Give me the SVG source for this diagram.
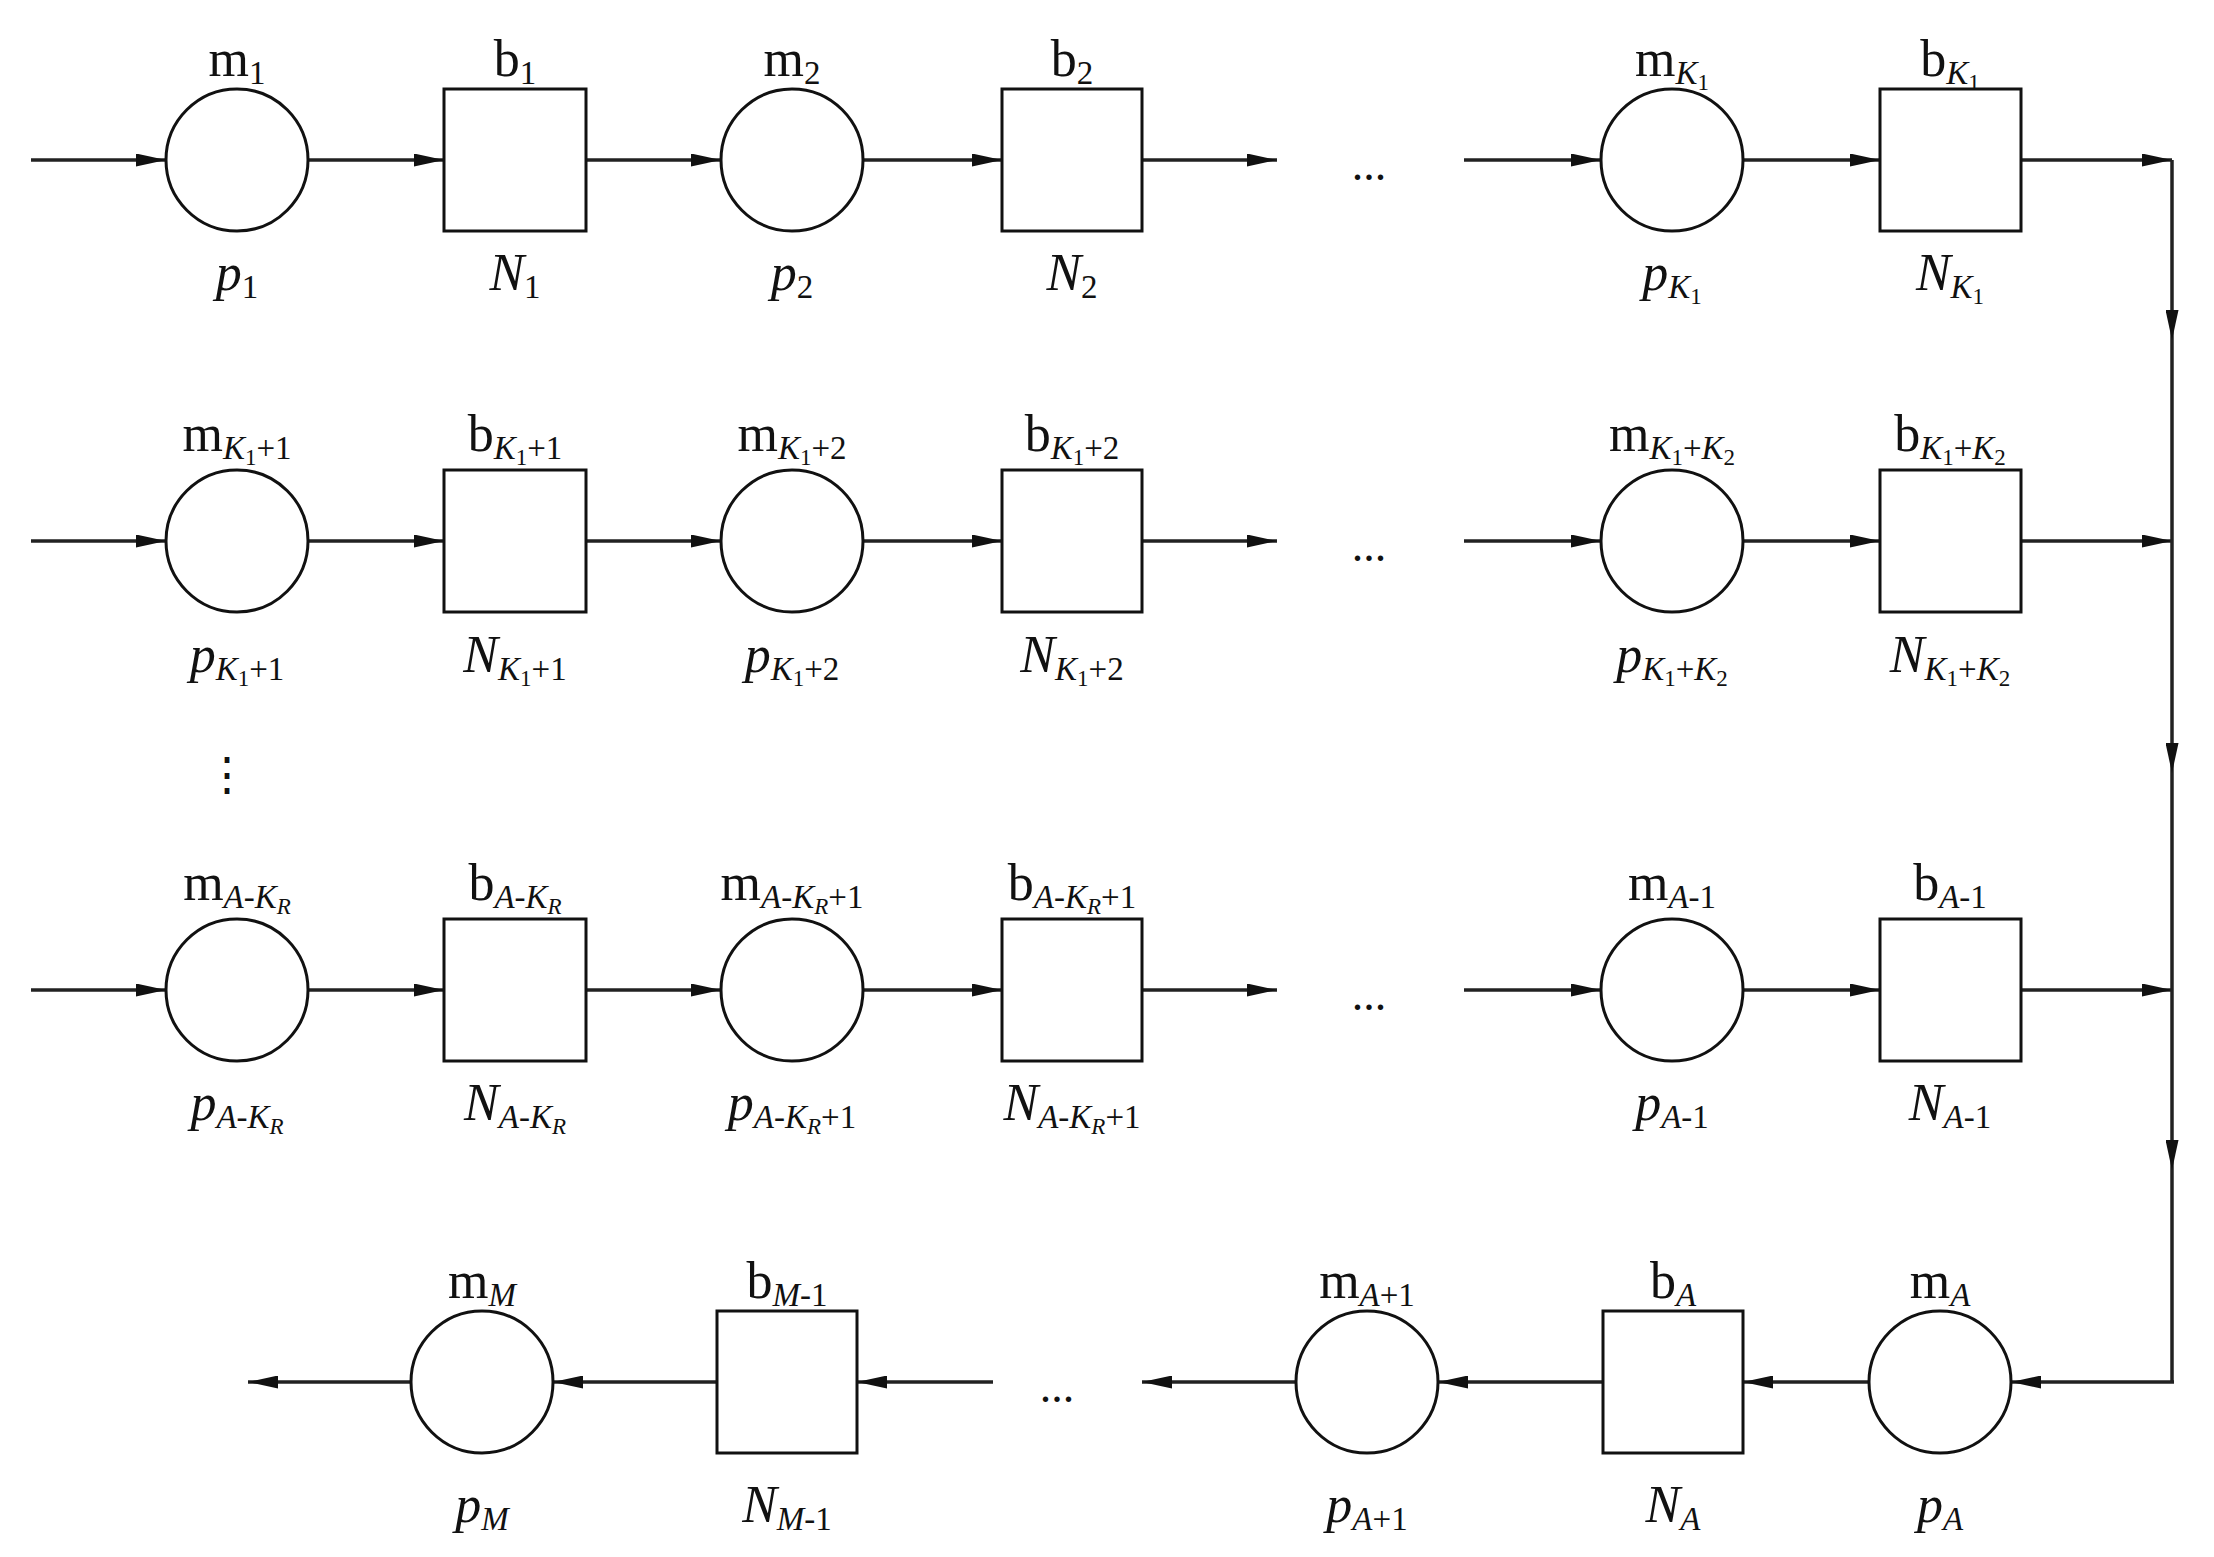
<svg xmlns="http://www.w3.org/2000/svg" width="2214" height="1557" viewBox="0 0 2214 1557">
<defs>
<marker id="ah" viewBox="0 0 10 10" refX="10" refY="5" markerWidth="30" markerHeight="13" markerUnits="userSpaceOnUse" orient="auto" preserveAspectRatio="none"><path d="M0,0 L10,5 L0,10 z" fill="#111"/></marker>
</defs>
<style>
.c{fill:#fff;stroke:#111;stroke-width:3}
.l{stroke:#222;stroke-width:3.5;fill:none;marker-end:url(#ah)}
.t{font-family:"Liberation Serif","Times New Roman",serif;font-size:52px;fill:#111;text-anchor:middle}
.i{font-style:italic}
.s{font-size:33px}
.ss{font-size:23px}
.d{font-family:"Liberation Serif",serif;font-size:46px;fill:#111;text-anchor:middle}
</style>
<rect width="2214" height="1557" fill="#fff"/>
<g id="connectors">
<line class="l" x1="31" y1="160" x2="166" y2="160"/><line class="l" x1="308" y1="160" x2="444" y2="160"/><line class="l" x1="586" y1="160" x2="721" y2="160"/><line class="l" x1="863" y1="160" x2="1002" y2="160"/><line class="l" x1="1142" y1="160" x2="1277" y2="160"/><line class="l" x1="1464" y1="160" x2="1601" y2="160"/><line class="l" x1="1743" y1="160" x2="1880" y2="160"/><line class="l" x1="2021" y1="160" x2="2172" y2="160"/>
<line class="l" x1="31" y1="541" x2="166" y2="541"/><line class="l" x1="308" y1="541" x2="444" y2="541"/><line class="l" x1="586" y1="541" x2="721" y2="541"/><line class="l" x1="863" y1="541" x2="1002" y2="541"/><line class="l" x1="1142" y1="541" x2="1277" y2="541"/><line class="l" x1="1464" y1="541" x2="1601" y2="541"/><line class="l" x1="1743" y1="541" x2="1880" y2="541"/><line class="l" x1="2021" y1="541" x2="2172" y2="541"/>
<line class="l" x1="31" y1="990" x2="166" y2="990"/><line class="l" x1="308" y1="990" x2="444" y2="990"/><line class="l" x1="586" y1="990" x2="721" y2="990"/><line class="l" x1="863" y1="990" x2="1002" y2="990"/><line class="l" x1="1142" y1="990" x2="1277" y2="990"/><line class="l" x1="1464" y1="990" x2="1601" y2="990"/><line class="l" x1="1743" y1="990" x2="1880" y2="990"/><line class="l" x1="2021" y1="990" x2="2172" y2="990"/>
<line class="l" x1="2172" y1="160" x2="2172" y2="340"/><line class="l" x1="2172" y1="340" x2="2172" y2="773"/><line class="l" x1="2172" y1="773" x2="2172" y2="1170"/><line x1="2172" y1="1170" x2="2172" y2="1382" stroke="#222" stroke-width="3.5"/>
<line class="l" x1="2174" y1="1382" x2="2011" y2="1382"/><line class="l" x1="1869" y1="1382" x2="1743" y2="1382"/><line class="l" x1="1603" y1="1382" x2="1438" y2="1382"/><line class="l" x1="1296" y1="1382" x2="1142" y2="1382"/><line class="l" x1="993" y1="1382" x2="857" y2="1382"/><line class="l" x1="717" y1="1382" x2="553" y2="1382"/><line class="l" x1="411" y1="1382" x2="248" y2="1382"/>
</g>
<g id="row1">
<g id="m1"><circle class="c" cx="237" cy="160" r="71"/><text class="t" x="237" y="76">m<tspan class="s" dy="8">1</tspan></text><text class="t i" x="237" y="290">p<tspan class="s" dy="8" font-style="normal">1</tspan></text></g>
<g id="b1"><rect class="c" x="444" y="89" width="142" height="142"/><text class="t" x="515" y="76">b<tspan class="s" dy="8">1</tspan></text><text class="t i" x="515" y="290">N<tspan class="s" dy="8" font-style="normal">1</tspan></text></g>
<g id="m2"><circle class="c" cx="792" cy="160" r="71"/><text class="t" x="792" y="76">m<tspan class="s" dy="8">2</tspan></text><text class="t i" x="792" y="290">p<tspan class="s" dy="8" font-style="normal">2</tspan></text></g>
<g id="b2"><rect class="c" x="1002" y="89" width="140" height="142"/><text class="t" x="1072" y="76">b<tspan class="s" dy="8">2</tspan></text><text class="t i" x="1072" y="290">N<tspan class="s" dy="8" font-style="normal">2</tspan></text></g>
<text class="d" x="1369" y="180">...</text>
<g id="mK1"><circle class="c" cx="1672" cy="160" r="71"/><text class="t" x="1672" y="76">m<tspan class="s i" dy="8">K</tspan><tspan class="ss" dy="6">1</tspan></text><text class="t i" x="1672" y="290">p<tspan class="s" dy="8">K</tspan><tspan class="ss" dy="6" font-style="normal">1</tspan></text></g>
<g id="bK1"><rect class="c" x="1880" y="89" width="141" height="142"/><text class="t" x="1950" y="76">b<tspan class="s i" dy="8">K</tspan><tspan class="ss" dy="6">1</tspan></text><text class="t i" x="1950" y="290">N<tspan class="s" dy="8">K</tspan><tspan class="ss" dy="6" font-style="normal">1</tspan></text></g>
</g>
<g id="row2">
<g id="mK1p1"><circle class="c" cx="237" cy="541" r="71"/><text class="t" x="237" y="451">m<tspan class="s i" dy="8">K</tspan><tspan class="ss" dy="6">1</tspan><tspan class="s" dy="-6">+1</tspan></text><text class="t i" x="237" y="672">p<tspan class="s" dy="8">K</tspan><tspan class="ss" dy="6" font-style="normal">1</tspan><tspan class="s" dy="-6" font-style="normal">+1</tspan></text></g>
<g id="bK1p1"><rect class="c" x="444" y="470" width="142" height="142"/><text class="t" x="515" y="451">b<tspan class="s i" dy="8">K</tspan><tspan class="ss" dy="6">1</tspan><tspan class="s" dy="-6">+1</tspan></text><text class="t i" x="515" y="672">N<tspan class="s" dy="8">K</tspan><tspan class="ss" dy="6" font-style="normal">1</tspan><tspan class="s" dy="-6" font-style="normal">+1</tspan></text></g>
<g id="mK1p2"><circle class="c" cx="792" cy="541" r="71"/><text class="t" x="792" y="451">m<tspan class="s i" dy="8">K</tspan><tspan class="ss" dy="6">1</tspan><tspan class="s" dy="-6">+2</tspan></text><text class="t i" x="792" y="672">p<tspan class="s" dy="8">K</tspan><tspan class="ss" dy="6" font-style="normal">1</tspan><tspan class="s" dy="-6" font-style="normal">+2</tspan></text></g>
<g id="bK1p2"><rect class="c" x="1002" y="470" width="140" height="142"/><text class="t" x="1072" y="451">b<tspan class="s i" dy="8">K</tspan><tspan class="ss" dy="6">1</tspan><tspan class="s" dy="-6">+2</tspan></text><text class="t i" x="1072" y="672">N<tspan class="s" dy="8">K</tspan><tspan class="ss" dy="6" font-style="normal">1</tspan><tspan class="s" dy="-6" font-style="normal">+2</tspan></text></g>
<text class="d" x="1369" y="561">...</text>
<g id="mK1K2"><circle class="c" cx="1672" cy="541" r="71"/><text class="t" x="1672" y="451">m<tspan class="s i" dy="8">K</tspan><tspan class="ss" dy="6">1</tspan><tspan class="s" dy="-6">+</tspan><tspan class="s i">K</tspan><tspan class="ss" dy="6">2</tspan></text><text class="t i" x="1672" y="672">p<tspan class="s" dy="8">K</tspan><tspan class="ss" dy="6" font-style="normal">1</tspan><tspan class="s" dy="-6" font-style="normal">+</tspan><tspan class="s">K</tspan><tspan class="ss" dy="6" font-style="normal">2</tspan></text></g>
<g id="bK1K2"><rect class="c" x="1880" y="470" width="141" height="142"/><text class="t" x="1950" y="451">b<tspan class="s i" dy="8">K</tspan><tspan class="ss" dy="6">1</tspan><tspan class="s" dy="-6">+</tspan><tspan class="s i">K</tspan><tspan class="ss" dy="6">2</tspan></text><text class="t i" x="1950" y="672">N<tspan class="s" dy="8">K</tspan><tspan class="ss" dy="6" font-style="normal">1</tspan><tspan class="s" dy="-6" font-style="normal">+</tspan><tspan class="s">K</tspan><tspan class="ss" dy="6" font-style="normal">2</tspan></text></g>
</g>
<text class="d" x="227" y="790">⋮</text>
<g id="row3">
<g id="mAKR"><circle class="c" cx="237" cy="990" r="71"/><text class="t" x="237" y="900">m<tspan class="s i" dy="8">A</tspan><tspan class="s">-</tspan><tspan class="s i">K</tspan><tspan class="ss i" dy="6">R</tspan></text><text class="t i" x="237" y="1120">p<tspan class="s" dy="8">A</tspan><tspan class="s" font-style="normal">-</tspan><tspan class="s">K</tspan><tspan class="ss" dy="6">R</tspan></text></g>
<g id="bAKR"><rect class="c" x="444" y="919" width="142" height="142"/><text class="t" x="515" y="900">b<tspan class="s i" dy="8">A</tspan><tspan class="s">-</tspan><tspan class="s i">K</tspan><tspan class="ss i" dy="6">R</tspan></text><text class="t i" x="515" y="1120">N<tspan class="s" dy="8">A</tspan><tspan class="s" font-style="normal">-</tspan><tspan class="s">K</tspan><tspan class="ss" dy="6">R</tspan></text></g>
<g id="mAKR1"><circle class="c" cx="792" cy="990" r="71"/><text class="t" x="792" y="900">m<tspan class="s i" dy="8">A</tspan><tspan class="s">-</tspan><tspan class="s i">K</tspan><tspan class="ss i" dy="6">R</tspan><tspan class="s" dy="-6">+1</tspan></text><text class="t i" x="792" y="1120">p<tspan class="s" dy="8">A</tspan><tspan class="s" font-style="normal">-</tspan><tspan class="s">K</tspan><tspan class="ss" dy="6">R</tspan><tspan class="s" dy="-6" font-style="normal">+1</tspan></text></g>
<g id="bAKR1"><rect class="c" x="1002" y="919" width="140" height="142"/><text class="t" x="1072" y="900">b<tspan class="s i" dy="8">A</tspan><tspan class="s">-</tspan><tspan class="s i">K</tspan><tspan class="ss i" dy="6">R</tspan><tspan class="s" dy="-6">+1</tspan></text><text class="t i" x="1072" y="1120">N<tspan class="s" dy="8">A</tspan><tspan class="s" font-style="normal">-</tspan><tspan class="s">K</tspan><tspan class="ss" dy="6">R</tspan><tspan class="s" dy="-6" font-style="normal">+1</tspan></text></g>
<text class="d" x="1369" y="1010">...</text>
<g id="mA1"><circle class="c" cx="1672" cy="990" r="71"/><text class="t" x="1672" y="900">m<tspan class="s i" dy="8">A</tspan><tspan class="s">-1</tspan></text><text class="t i" x="1672" y="1120">p<tspan class="s" dy="8">A</tspan><tspan class="s" font-style="normal">-1</tspan></text></g>
<g id="bA1"><rect class="c" x="1880" y="919" width="141" height="142"/><text class="t" x="1950" y="900">b<tspan class="s i" dy="8">A</tspan><tspan class="s">-1</tspan></text><text class="t i" x="1950" y="1120">N<tspan class="s" dy="8">A</tspan><tspan class="s" font-style="normal">-1</tspan></text></g>
</g>
<g id="row4">
<g id="mM"><circle class="c" cx="482" cy="1382" r="71"/><text class="t" x="482" y="1298">m<tspan class="s i" dy="8">M</tspan></text><text class="t i" x="482" y="1522">p<tspan class="s" dy="8">M</tspan></text></g>
<g id="bM1"><rect class="c" x="717" y="1311" width="140" height="142"/><text class="t" x="787" y="1298">b<tspan class="s i" dy="8">M</tspan><tspan class="s">-1</tspan></text><text class="t i" x="787" y="1522">N<tspan class="s" dy="8">M</tspan><tspan class="s" font-style="normal">-1</tspan></text></g>
<text class="d" x="1057" y="1402">...</text>
<g id="mA1p"><circle class="c" cx="1367" cy="1382" r="71"/><text class="t" x="1367" y="1298">m<tspan class="s i" dy="8">A</tspan><tspan class="s">+1</tspan></text><text class="t i" x="1367" y="1522">p<tspan class="s" dy="8">A</tspan><tspan class="s" font-style="normal">+1</tspan></text></g>
<g id="bA"><rect class="c" x="1603" y="1311" width="140" height="142"/><text class="t" x="1673" y="1298">b<tspan class="s i" dy="8">A</tspan></text><text class="t i" x="1673" y="1522">N<tspan class="s" dy="8">A</tspan></text></g>
<g id="mA"><circle class="c" cx="1940" cy="1382" r="71"/><text class="t" x="1940" y="1298">m<tspan class="s i" dy="8">A</tspan></text><text class="t i" x="1940" y="1522">p<tspan class="s" dy="8">A</tspan></text></g>
</g>
</svg>
